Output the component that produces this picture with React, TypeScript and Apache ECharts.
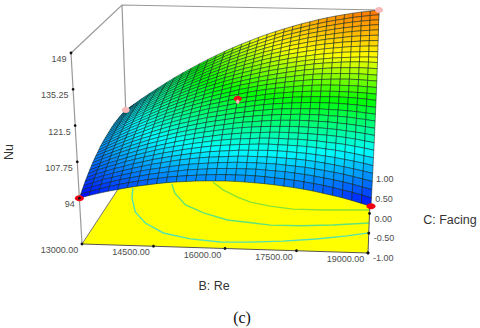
import React, { useEffect, useRef } from "react";
import * as echarts from "echarts";

const bTicks = [13000, 14500, 16000, 17500, 19000];
const cTicks = [-1, -0.5, 0, 0.5, 1];
const nuTicks = [149, 135.25, 121.5, 107.75, 94];
const nuTickLabels = ["149", "135.25", "121.5", "107.75", "94"];
const bGrid = [13000, 13200, 13400, 13600, 13800, 14000, 14200, 14400, 14600, 14800, 15000, 15200, 15400, 15600, 15800, 16000, 16200, 16400, 16600, 16800, 17000, 17200, 17400, 17600, 17800, 18000, 18200, 18400, 18600, 18800, 19000];
const cGrid = [-1, -0.9333, -0.8667, -0.8, -0.7333, -0.6667, -0.6, -0.5333, -0.4667, -0.4, -0.3333, -0.2667, -0.2, -0.1333, -0.0667, 0, 0.0667, 0.1333, 0.2, 0.2667, 0.3333, 0.4, 0.4667, 0.5333, 0.6, 0.6667, 0.7333, 0.8, 0.8667, 0.9333, 1];
const nuRows = [
  [94.0, 95.1, 96.1, 97.0, 97.8, 98.6, 99.3, 99.9, 100.5, 101.0, 101.4, 101.7, 102.0, 102.2, 102.3, 102.4, 102.4, 102.3, 102.1, 101.9, 101.6, 101.2, 100.8, 100.3, 99.7, 99.0, 98.3, 97.5, 96.6, 95.6, 94.6],
  [94.8, 95.9, 97.0, 98.0, 98.9, 99.7, 100.4, 101.1, 101.7, 102.3, 102.7, 103.1, 103.4, 103.7, 103.9, 104.0, 104.0, 104.0, 103.9, 103.7, 103.4, 103.1, 102.7, 102.2, 101.7, 101.1, 100.4, 99.6, 98.8, 97.9, 96.9],
  [95.6, 96.8, 97.9, 98.9, 99.9, 100.7, 101.5, 102.3, 102.9, 103.5, 104.0, 104.5, 104.8, 105.1, 105.4, 105.5, 105.6, 105.6, 105.6, 105.4, 105.2, 105.0, 104.6, 104.2, 103.7, 103.1, 102.5, 101.8, 101.0, 100.1, 99.2],
  [96.4, 97.6, 98.9, 99.8, 100.8, 101.7, 102.6, 103.4, 104.0, 104.7, 105.3, 105.8, 106.2, 106.5, 106.8, 107.0, 107.2, 107.2, 107.2, 107.1, 107.0, 106.7, 106.4, 106.1, 105.6, 105.1, 104.5, 103.9, 103.1, 102.3, 101.4],
  [97.2, 98.4, 99.6, 100.7, 101.7, 102.7, 103.6, 104.5, 105.2, 105.9, 106.6, 107.1, 107.6, 108.0, 108.2, 108.5, 108.7, 108.8, 108.8, 108.8, 108.7, 108.5, 108.3, 108.0, 107.6, 107.1, 106.5, 105.9, 105.2, 104.5, 103.7],
  [97.8, 99.2, 100.4, 101.6, 102.6, 103.7, 104.6, 105.5, 106.3, 107.0, 107.7, 108.3, 108.8, 109.3, 109.6, 109.9, 110.2, 110.3, 110.4, 110.5, 110.4, 110.3, 110.0, 109.8, 109.4, 109.0, 108.5, 107.9, 107.3, 106.6, 105.8],
  [98.5, 100.0, 101.2, 102.4, 103.6, 104.6, 105.6, 106.5, 107.4, 108.1, 108.9, 109.5, 110.1, 110.6, 111.0, 111.3, 111.6, 111.8, 112.0, 112.1, 112.0, 111.9, 111.8, 111.6, 111.3, 110.9, 110.5, 110.0, 109.4, 108.7, 108.0],
  [99.1, 100.5, 101.9, 103.1, 104.3, 105.5, 106.5, 107.5, 108.4, 109.2, 109.9, 110.6, 111.2, 111.8, 112.3, 112.7, 113.0, 113.2, 113.5, 113.6, 113.6, 113.5, 113.5, 113.3, 113.1, 112.7, 112.4, 112.0, 111.4, 110.8, 110.1],
  [99.7, 101.1, 102.5, 103.9, 105.1, 106.3, 107.4, 108.4, 109.3, 110.2, 111.0, 111.7, 112.4, 113.0, 113.6, 114.0, 114.4, 114.7, 114.9, 115.1, 115.2, 115.2, 115.1, 115.0, 114.8, 114.6, 114.3, 113.9, 113.4, 112.8, 112.2],
  [100.3, 101.8, 103.2, 104.6, 105.9, 107.1, 108.3, 109.3, 110.3, 111.3, 112.1, 112.9, 113.6, 114.2, 114.8, 115.3, 115.8, 116.1, 116.4, 116.6, 116.7, 116.8, 116.8, 116.7, 116.6, 116.4, 116.1, 115.7, 115.3, 114.8, 114.2],
  [100.8, 102.3, 103.8, 105.2, 106.6, 107.8, 109.1, 110.2, 111.2, 112.2, 113.1, 113.9, 114.6, 115.4, 115.9, 116.6, 117.1, 117.4, 117.8, 118.1, 118.3, 118.4, 118.5, 118.4, 118.3, 118.2, 117.9, 117.6, 117.2, 116.7, 116.2],
  [101.3, 102.9, 104.4, 105.9, 107.3, 108.6, 109.8, 111.0, 112.1, 113.1, 114.1, 115.0, 115.8, 116.5, 117.1, 117.8, 118.4, 118.8, 119.2, 119.5, 119.8, 119.9, 120.1, 120.1, 120.1, 119.9, 119.7, 119.5, 119.1, 118.7, 118.2],
  [101.7, 103.4, 105.0, 106.5, 107.9, 109.3, 110.6, 111.8, 113.0, 114.1, 115.0, 116.0, 116.9, 117.6, 118.3, 119.0, 119.5, 120.1, 120.5, 120.9, 121.2, 121.4, 121.5, 121.6, 121.6, 121.5, 121.4, 121.2, 120.9, 120.5, 120.1],
  [102.1, 103.8, 105.5, 107.1, 108.6, 110.0, 111.4, 112.7, 113.8, 115.0, 116.0, 116.9, 117.9, 118.7, 119.4, 120.2, 120.8, 121.4, 121.9, 122.3, 122.6, 122.9, 123.1, 123.3, 123.3, 123.3, 123.2, 123.0, 122.8, 122.4, 122.0],
  [102.6, 104.3, 106.0, 107.6, 109.1, 110.6, 112.1, 113.4, 114.7, 115.8, 116.9, 117.9, 118.9, 119.7, 120.5, 121.3, 122.0, 122.6, 123.1, 123.6, 124.0, 124.4, 124.6, 124.8, 124.9, 125.0, 125.0, 124.9, 124.7, 124.4, 124.0],
  [102.9, 104.7, 106.4, 108.1, 109.7, 111.2, 112.6, 114.1, 115.3, 116.5, 117.7, 118.8, 119.8, 120.6, 121.6, 122.4, 123.1, 123.7, 124.4, 124.9, 125.3, 125.7, 126.0, 126.2, 126.3, 126.4, 126.4, 126.3, 126.2, 126.0, 125.7],
  [103.2, 105.1, 106.9, 108.6, 110.2, 111.8, 113.3, 114.8, 116.0, 117.3, 118.5, 119.6, 120.6, 121.6, 122.6, 123.4, 124.2, 125.0, 125.6, 126.2, 126.7, 127.1, 127.5, 127.8, 128.0, 128.1, 128.1, 128.1, 128.0, 127.8, 127.6],
  [103.5, 105.4, 107.2, 109.0, 110.7, 112.3, 113.9, 115.4, 116.7, 118.0, 119.3, 120.4, 121.5, 122.5, 123.4, 124.5, 125.3, 126.1, 126.8, 127.4, 128.0, 128.5, 128.9, 129.3, 129.5, 129.7, 129.8, 129.9, 129.8, 129.6, 129.4],
  [103.7, 105.7, 107.6, 109.4, 111.1, 112.8, 114.4, 115.9, 117.4, 118.7, 120.0, 121.2, 122.4, 123.4, 124.5, 125.5, 126.3, 127.2, 127.9, 128.6, 129.2, 129.8, 130.3, 130.7, 131.0, 131.2, 131.3, 131.4, 131.4, 131.2, 131.0],
  [103.9, 106.0, 107.9, 109.8, 111.6, 113.3, 114.9, 116.5, 118.0, 119.4, 120.7, 122.0, 123.2, 124.3, 125.4, 126.4, 127.3, 128.2, 129.0, 129.7, 130.4, 131.0, 131.6, 132.0, 132.4, 132.7, 132.9, 133.0, 133.1, 133.0, 132.9],
  [104.1, 106.2, 108.2, 110.1, 112.0, 113.8, 115.4, 117.1, 118.6, 120.0, 121.4, 122.8, 124.0, 125.2, 126.3, 127.3, 128.3, 129.2, 130.1, 130.8, 131.5, 132.2, 132.8, 133.4, 133.8, 134.1, 134.4, 134.6, 134.7, 134.7, 134.6],
  [104.3, 106.4, 108.4, 110.4, 112.3, 114.1, 115.8, 117.5, 119.1, 120.6, 122.0, 123.4, 124.7, 126.0, 127.1, 128.2, 129.2, 130.2, 131.1, 131.9, 132.6, 133.3, 133.9, 134.4, 134.8, 135.2, 135.5, 135.7, 135.9, 136.0, 136.0],
  [104.4, 106.5, 108.6, 110.6, 112.6, 114.4, 116.2, 117.9, 119.6, 121.1, 122.6, 124.1, 125.4, 126.7, 127.9, 129.1, 130.1, 131.1, 132.1, 132.9, 133.7, 134.4, 135.0, 135.6, 136.1, 136.5, 136.9, 137.1, 137.3, 137.5, 137.5],
  [104.5, 106.7, 108.8, 110.8, 112.8, 114.7, 116.6, 118.3, 120.0, 121.7, 123.2, 124.7, 126.1, 127.4, 128.7, 129.9, 131.0, 132.1, 133.0, 133.9, 134.8, 135.5, 136.2, 136.8, 137.4, 137.8, 138.2, 138.6, 138.8, 139.0, 139.1],
  [104.5, 106.8, 108.9, 111.0, 113.1, 115.0, 116.9, 118.7, 120.5, 122.1, 123.7, 125.3, 126.7, 128.1, 129.4, 130.7, 131.8, 132.9, 134.0, 134.9, 135.8, 136.6, 137.3, 138.0, 138.6, 139.1, 139.6, 139.9, 140.2, 140.5, 140.6],
  [104.5, 106.8, 109.0, 111.2, 113.3, 115.3, 117.2, 119.1, 120.9, 122.6, 124.2, 125.8, 127.3, 128.8, 130.1, 131.4, 132.6, 133.8, 134.8, 135.8, 136.8, 137.6, 138.4, 139.1, 139.8, 140.3, 140.8, 141.3, 141.6, 141.9, 142.1],
  [104.5, 106.8, 109.1, 111.3, 113.4, 115.5, 117.5, 119.4, 121.2, 123.0, 124.7, 126.3, 127.9, 129.4, 130.8, 132.1, 133.4, 134.6, 135.7, 136.7, 137.7, 138.6, 139.5, 140.2, 140.9, 141.5, 142.1, 142.6, 143.0, 143.3, 143.6],
  [104.4, 106.8, 109.1, 111.4, 113.6, 115.7, 117.7, 119.7, 121.6, 123.4, 125.1, 126.8, 128.4, 129.9, 131.4, 132.8, 134.1, 135.3, 136.5, 137.6, 138.6, 139.6, 140.5, 141.3, 142.0, 142.7, 143.3, 143.8, 144.3, 144.7, 145.0],
  [104.3, 106.8, 109.1, 111.4, 113.7, 115.8, 117.9, 119.9, 121.9, 123.7, 125.5, 127.2, 128.9, 130.5, 132.0, 133.4, 134.8, 136.1, 137.3, 138.5, 139.5, 140.5, 141.5, 142.3, 143.1, 143.8, 144.5, 145.1, 145.6, 146.0, 146.3],
  [104.2, 106.7, 109.1, 111.4, 113.7, 115.9, 118.1, 120.1, 122.1, 124.0, 125.9, 127.7, 129.4, 131.0, 132.5, 134.0, 135.4, 136.8, 138.1, 139.3, 140.4, 141.4, 142.4, 143.3, 144.2, 144.9, 145.6, 146.3, 146.8, 147.3, 147.7],
  [104.0, 106.5, 109.0, 111.4, 113.7, 116.0, 118.2, 120.3, 122.3, 124.3, 126.2, 128.0, 129.8, 131.5, 133.1, 134.6, 136.1, 137.5, 138.8, 140.0, 141.2, 142.3, 143.3, 144.3, 145.2, 146.0, 146.7, 147.4, 148.0, 148.5, 149.0],
];
const designLow = [[13000, -1, 94.0], [19000, -1, 94.6]];
const designHigh = [[13000, 1, 104.0], [19000, 1, 149.0]];
const designCentre = [[16000, 0, 122.4]];
const contour1 = [[13338, 0.6], [13456, 0.32], [13720, -0.07], [14074, -0.37], [14572, -0.63], [15200, -0.77], [15850, -0.83], [16486, -0.81], [17176, -0.76], [17878, -0.68], [18532, -0.58], [19000, -0.49]];
const contour2 = [[14212, 0.72], [14392, 0.47], [14770, 0.15], [15256, -0.06], [15844, -0.24], [16390, -0.3], [16828, -0.35], [17500, -0.35], [18196, -0.31], [19000, -0.24]];
const contour3 = [[15178, 0.78], [15496, 0.57], [15898, 0.38], [16234, 0.25], [16708, 0.15], [17248, 0.08], [17950, 0.07], [19000, 0.09]];

const lerp = (a: number, b: number, t: number) => a + (b - a) * t;
function bilinear(fl: number[], fr: number[], bl: number[], br: number[], u: number, v: number) {
  return [0, 1].map((i) => lerp(lerp(fl[i], fr[i], u), lerp(bl[i], br[i], u), v));
}
const NU0 = 94, NU1 = 149, FLOOR_T = 0.24;
function project(b: number, c: number, nu: number | null) {
  const u = (b - 13000) / 6000, v = (c + 1) / 2;
  const floor = bilinear([82, 244], [368, 253], [128, 174], [371, 174], u, v);
  if (nu === null) return floor;
  const top = bilinear([71, 53], [380, 65], [122, 5], [379, 10], u, v);
  const t = FLOOR_T + (1 - FLOOR_T) * (nu - NU0) / (NU1 - NU0);
  return [lerp(floor[0], top[0], t), lerp(floor[1], top[1], t)];
}
const stops: [number, number[]][] = [
  [94, [0, 0, 255]], [110, [0, 255, 255]], [124, [0, 255, 0]], [136, [255, 255, 0]], [149, [255, 112, 0]],
];
function colour(nu: number) {
  for (let i = 1; i < stops.length; i++) {
    if (nu <= stops[i][0]) {
      const t = (nu - stops[i - 1][0]) / (stops[i][0] - stops[i - 1][0]);
      const m = stops[i - 1][1].map((x, k) => Math.round(lerp(x, stops[i][1][k], Math.max(0, t))));
      return `rgb(${m[0]},${m[1]},${m[2]})`;
    }
  }
  return "rgb(255,112,0)";
}

const FONT = "'Liberation Sans', Arial, sans-serif";
const GREY = "#4d4d4d";

function buildOption() {
  const cells: number[][] = [];
  for (let j = cGrid.length - 2; j >= 0; j--) for (let i = 0; i < bGrid.length - 1; i++) cells.push([i, j]);

  const lineSeries = (pts: (number | null)[][], stroke: string, width: number, z = 1) => ({
    type: "custom", coordinateSystem: "cartesian2d", silent: true, z,
    data: [[0, 0]],
    renderItem: (_: any, api: any) => ({
      type: "polyline",
      shape: { points: pts.map((p) => api.coord(project(p[0] as number, p[1] as number, p[2] as any))) },
      style: { stroke, lineWidth: width, fill: "none" },
    }),
  });
  const dots = (pts: number[][], rx: number, ry: number, fill: string, z: number, stroke = "none") => ({
    type: "custom", coordinateSystem: "cartesian2d", silent: true, z,
    data: pts,
    renderItem: (p: any, api: any) => {
      const q = pts[p.dataIndex];
      const [x, y] = api.coord(project(q[0], q[1], q.length > 2 ? q[2] : null));
      return { type: "ellipse", shape: { cx: x, cy: y, rx, ry }, style: { fill, stroke } };
    },
  });
  const texts = (items: { t: string; b: number; c: number; nu: number | null; dx: number; dy: number; align: string }[]) => ({
    type: "custom", coordinateSystem: "cartesian2d", silent: true, z: 8,
    data: items.map((_, i) => [i, i]),
    renderItem: (p: any, api: any) => {
      const it = items[p.dataIndex];
      const [x, y] = api.coord(project(it.b, it.c, it.nu));
      return {
        type: "text", x: x + it.dx, y: y + it.dy,
        style: { text: it.t, fontSize: 9, fontFamily: FONT, fill: GREY, align: it.align, verticalAlign: "middle" },
      };
    },
  });

  return {
    animation: false,
    backgroundColor: "#ffffff",
    grid: { left: 0, right: 0, top: 0, bottom: 0 },
    xAxis: { type: "value", min: 0, max: 480, show: false },
    yAxis: { type: "value", min: 0, max: 328, inverse: true, show: false },
    graphic: [
      { type: "text", x: 214, y: 285.5, style: { text: "B: Re", fontSize: 12.5, fontFamily: FONT, fill: "#333", align: "center", verticalAlign: "middle" } },
      { type: "text", x: 450, y: 220, style: { text: "C: Facing", fontSize: 12.5, fontFamily: FONT, fill: "#333", align: "center", verticalAlign: "middle" } },
      { type: "text", x: 9, y: 152, rotation: Math.PI / 2, style: { text: "Nu", fontSize: 12.5, fontFamily: FONT, fill: "#333", align: "center", verticalAlign: "middle" } },
      { type: "text", x: 242, y: 317, style: { text: "(c)", fontSize: 16, fontFamily: "'Liberation Serif', serif", fill: "#111", align: "center", verticalAlign: "middle" } },
    ],
    series: [
      {
        type: "custom", coordinateSystem: "cartesian2d", silent: true, z: 1,
        data: [[0, 0]],
        renderItem: (_: any, api: any) => ({
          type: "polygon",
          shape: { points: [[13000, -1], [19000, -1], [19000, 1], [13000, 1]].map((p) => api.coord(project(p[0], p[1], null))) },
          style: { fill: "#ffff00" },
        }),
      },
      lineSeries(contour1.map((p) => [p[0], p[1], null]), "#55e2b0", 1.4, 2),
      lineSeries(contour2.map((p) => [p[0], p[1], null]), "#62e27a", 1.4, 2),
      lineSeries(contour3.map((p) => [p[0], p[1], null]), "#8ce232", 1.4, 2),
      lineSeries([[13000, -1, null], [19000, -1, null], [19000, 1, null]], "#555555", 1, 2),
      lineSeries([[13000, -1, null], [13000, 1, null]], "#777777", 1, 2),
      lineSeries([[13000, -1, null], [13000, -1, 149], [13000, 1, 149], [19000, 1, 149], [19000, 1, null]], "#999999", 1.2, 2),
      lineSeries([[13000, 1, null], [13000, 1, 149]], "#999999", 1.2, 2),
      {
        type: "custom", coordinateSystem: "cartesian2d", silent: true, z: 3,
        data: cells,
        renderItem: (p: any, api: any) => {
          const [i, j] = cells[p.dataIndex];
          const corners = [[i, j], [i + 1, j], [i + 1, j + 1], [i, j + 1]];
          const vals = corners.map(([a, b]) => nuRows[b][a]);
          const mean = vals.reduce((s, x) => s + x, 0) / 4;
          return {
            type: "polygon",
            shape: { points: corners.map(([a, b], k) => api.coord(project(bGrid[a], cGrid[b], vals[k]))) },
            style: { fill: colour(mean), stroke: "rgba(10,30,30,0.65)", lineWidth: 0.8 },
          };
        },
      },
      dots(designCentre, 4, 3, "#e8101a", 4),
      dots([[16000, 0, 121.2]], 1.8, 2.2, "#f6b8b8", 5),
      dots(designLow, 4.5, 3, "#f00010", 6),
      dots(designHigh, 4, 3, "#f8b8b8", 6),
      dots(bTicks.map((b) => [b, -1]), 1.4, 1.4, "#111", 7),
      dots(cTicks.slice(0, 3).map((c) => [19000, c]), 1.4, 1.4, "#111", 7),
      dots(nuTicks.map((n) => [13000, -1, n]), 1.4, 1.4, "#111", 7),
      texts(bTicks.map((b) => ({ t: b.toFixed(2), b, c: -1, nu: null, dx: -22.5, dy: 6, align: "center" }))),
      texts(cTicks.map((c) => ({ t: c.toFixed(2), b: 19000, c, nu: null, dx: 5, dy: 5, align: "left" }))),
      texts(nuTicks.map((n, i) => ({ t: nuTickLabels[i], b: 13000, c: -1, nu: n, dx: -4.5, dy: 6, align: "right" }))),
    ],
  };
}

export default function App() {
  const ref = useRef<HTMLDivElement>(null);
  useEffect(() => {
    document.body.style.margin = "0";
    const chart = echarts.init(ref.current!, null, { renderer: "svg" });
    chart.setOption(buildOption() as any);
    return () => chart.dispose();
  }, []);
  return <div ref={ref} style={{ width: 480, height: 328 }} />;
}
